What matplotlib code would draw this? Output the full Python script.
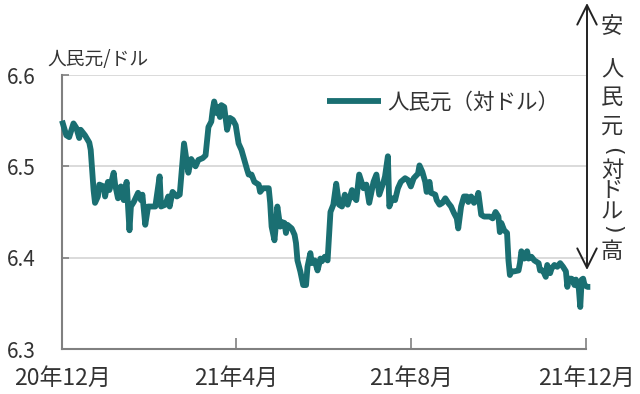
import matplotlib
matplotlib.use("Agg")
import matplotlib.pyplot as plt
import pandas as pd
from matplotlib.patches import FancyArrowPatch

plt.rcParams['font.family'] = ['Noto Sans CJK JP', 'DejaVu Sans']

# ---- data ----
start_date = "2020-12-01"
day_offsets = [0, 3, 5, 8, 10, 12, 13, 16, 19, 20, 22, 23, 25, 26, 29, 30, 32, 33, 36, 37,
               39, 41, 43, 45, 47, 48, 50, 53, 55, 56, 58, 60, 65, 68, 69, 72, 74, 75, 77, 80,
               82, 84, 85, 88, 90, 93, 95, 98, 100, 102, 104, 105, 106, 108, 109, 110, 111, 113, 115, 117,
               119, 121, 123, 125, 127, 129, 130, 132, 134, 137, 138, 140, 144, 145, 146, 148, 149, 150, 152, 153,
               155, 156, 157, 160, 162, 163, 164, 166, 168, 170, 171, 173, 174, 176, 178, 180, 181, 183, 185, 187,
               189, 191, 193, 195, 197, 199, 202, 203, 205, 207, 210, 212, 214, 217, 219, 221, 224, 225, 227, 228,
               230, 232, 234, 236, 239, 241, 243, 245, 248, 249, 251, 253, 254, 256, 257, 260, 261, 263, 265, 267,
               269, 271, 273, 275, 276, 278, 280, 282, 283, 285, 287, 289, 290, 292, 294, 298, 300, 302, 304, 305,
               306, 308, 310, 311, 312, 313, 315, 318, 319, 320, 322, 324, 325, 327, 329, 332, 333, 335, 337, 338,
               340, 341, 343, 345, 347, 349, 351, 352, 353, 355, 357, 358, 360, 361, 362, 363, 364, 366, 368]
cny_per_usd = [6.550, 6.534, 6.532, 6.547, 6.542, 6.531, 6.540, 6.534, 6.526, 6.518, 6.474, 6.460, 6.467, 6.480, 6.478, 6.467, 6.483, 6.474, 6.493, 6.480,
               6.465, 6.478, 6.463, 6.483, 6.430, 6.456, 6.461, 6.471, 6.463, 6.469, 6.436, 6.456, 6.456, 6.489, 6.456, 6.458, 6.467, 6.456, 6.472, 6.467,
               6.469, 6.507, 6.525, 6.493, 6.508, 6.500, 6.507, 6.509, 6.512, 6.543, 6.549, 6.562, 6.571, 6.558, 6.565, 6.554, 6.567, 6.565, 6.540, 6.553,
               6.551, 6.545, 6.525, 6.518, 6.507, 6.496, 6.491, 6.491, 6.483, 6.480, 6.472, 6.476, 6.476, 6.460, 6.434, 6.419, 6.436, 6.456, 6.434, 6.439,
               6.438, 6.427, 6.436, 6.432, 6.425, 6.416, 6.397, 6.385, 6.370, 6.370, 6.390, 6.405, 6.394, 6.397, 6.386, 6.399, 6.396, 6.401, 6.397, 6.450,
               6.458, 6.481, 6.458, 6.456, 6.469, 6.458, 6.474, 6.467, 6.463, 6.491, 6.476, 6.480, 6.460, 6.483, 6.491, 6.469, 6.483, 6.489, 6.511, 6.456,
               6.465, 6.463, 6.476, 6.483, 6.487, 6.485, 6.478, 6.487, 6.492, 6.501, 6.494, 6.483, 6.472, 6.483, 6.471, 6.469, 6.463, 6.458, 6.460, 6.465,
               6.460, 6.456, 6.449, 6.443, 6.432, 6.456, 6.467, 6.467, 6.461, 6.467, 6.460, 6.465, 6.471, 6.447, 6.445, 6.445, 6.443, 6.450, 6.445, 6.428,
               6.438, 6.430, 6.427, 6.397, 6.381, 6.385, 6.385, 6.386, 6.394, 6.407, 6.399, 6.407, 6.399, 6.401, 6.397, 6.394, 6.386, 6.386, 6.379, 6.392,
               6.383, 6.388, 6.392, 6.390, 6.394, 6.390, 6.385, 6.368, 6.377, 6.377, 6.370, 6.376, 6.366, 6.346, 6.376, 6.377, 6.370, 6.368, 6.368]
x_tick_dates = ["2020-12-01", "2021-04-01", "2021-08-01", "2021-12-01"]
x_tick_labels = ["20年12月", "21年4月", "21年8月", "21年12月"]
y_ticks = [6.3, 6.4, 6.5, 6.6]
y_unit = "人民元/ドル"
series_name = "人民元（対ドル）"
side_chars = ["安", "人", "民", "元", "(", "対", "ド", "ル", ")", "高"]

dates = pd.Timestamp(start_date) + pd.to_timedelta(day_offsets, unit="D")

# ---- figure ----
W, H = 640, 394
fig = plt.figure(figsize=(W / 100, H / 100), dpi=100)
ax = fig.add_axes([62 / W, 1 - 349 / H, (586 - 62) / W, (349 - 75) / H])

line_color = "#1a6f72"
ax.plot(dates, cny_per_usd, color=line_color, lw=4.2, solid_joinstyle="round",
        solid_capstyle="butt", clip_on=False, zorder=3, label=series_name)

ax.set_xlim(pd.Timestamp(x_tick_dates[0]), pd.Timestamp(x_tick_dates[-1]))
ax.set_ylim(y_ticks[0], y_ticks[-1])

ax.set_xticks(pd.to_datetime(x_tick_dates))
ax.set_xticklabels(x_tick_labels, fontsize=16.5, color="#333333")
ax.set_yticks(y_ticks)
ax.set_yticklabels([f"{v:.1f}" for v in y_ticks], fontsize=15, color="#333333")

ax.tick_params(axis="x", direction="in", length=8, width=1.2, color="#808080", pad=13)
ax.tick_params(axis="y", direction="in", length=5, width=1.2, color="#808080", pad=19)

for s in ["top", "right"]:
    ax.spines[s].set_visible(False)
for s in ["left", "bottom"]:
    ax.spines[s].set_color("#808080")
    ax.spines[s].set_linewidth(1.5)

for v in y_ticks[1:]:
    ax.axhline(v, color="#d4d4d4", lw=1.2, zorder=1)

# unit label
fig.text(47 / W, 1 - 60 / H, y_unit, fontsize=13.5, color="#333333", ha="left", va="center")

# legend
leg = ax.legend(loc="center left", bbox_to_anchor=((327 - 62) / 524, (349 - 103) / 274),
                frameon=False, fontsize=15.5, handlelength=2.5, handletextpad=0.3,
                borderpad=0, borderaxespad=0)
for t in leg.get_texts():
    t.set_color("#333333")

# side arrow
arr = FancyArrowPatch((587 / W, 1 - 3 / H), (587 / W, 1 - 270 / H),
                      transform=fig.transFigure, arrowstyle="<->,head_length=1.0,head_width=0.5",
                      mutation_scale=14, color="#222222", lw=1.4, shrinkA=0, shrinkB=0)
fig.patches.append(arr)

side_y = [27, 70, 97, 126, 151, 170, 190, 212, 229, 251]
for ch, yy in zip(side_chars, side_y):
    if ch in "()":
        fig.text(612 / W, 1 - yy / H, ch, fontsize=16, color="#333333", ha="center", va="center",
                 rotation=270, family="DejaVu Sans")
    else:
        fig.text(612 / W, 1 - yy / H, ch, fontsize=16, color="#333333", ha="center", va="center")

fig.savefig("out.png", dpi=100)
